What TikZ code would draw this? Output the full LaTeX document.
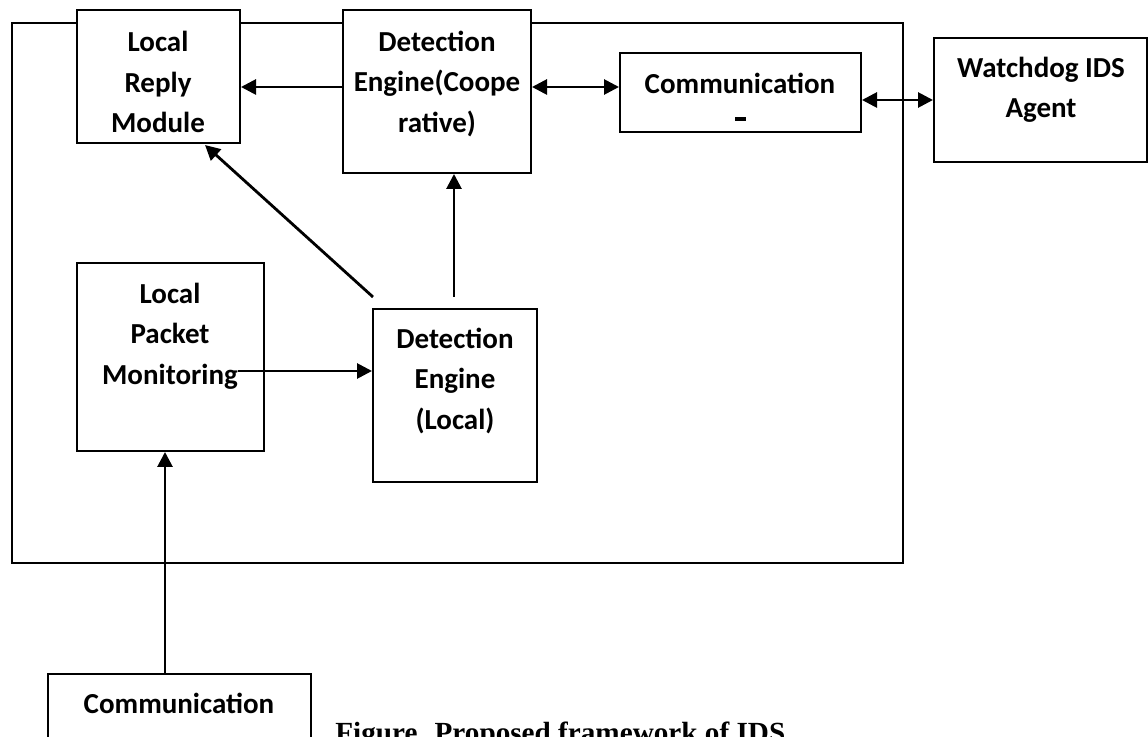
\documentclass[tikz,border=0pt]{standalone}
\usepackage{fontspec}
\setmainfont{Carlito}
\newfontfamily\capfont{Liberation Serif}
\usetikzlibrary{arrows.meta,positioning}
\tikzstyle{box}  = [draw, rectangle, line width=1pt, inner sep=0pt]
\tikzstyle{lbl}  = [align=center, inner sep=0pt, font=\bfseries\fontsize{14.5}{20.25}\selectfont]
\tikzstyle{conn} = [line width=1.4pt]

\begin{document}
\begin{tikzpicture}[x=0.5pt, y=-0.5pt, >={Triangle[length=7.5pt, width=7.5pt]}]
\useasboundingbox (0,0) rectangle (1148,737);
\clip (0,0) rectangle (1148,737);
\node[box, minimum width=445.5pt, minimum height=270pt] (frame) at (457.5,293) {};
\node[box, fill=white, minimum width=81.5pt, minimum height=66.5pt] (reply) at (158.5,76.5) {};
\node[box, fill=white, minimum width=94pt, minimum height=81.5pt] (coop) at (437,91.5) {};
\node[box, minimum width=120.5pt, minimum height=39.5pt] (commTop) at (740.5,92.5) {};
\node[box, minimum width=106.5pt, minimum height=62pt] (watchdog) at (1040.5,100) {};
\node[box, minimum width=93.5pt, minimum height=94pt] (mon) at (170.5,357) {};
\node[box, minimum width=82pt, minimum height=86.5pt] (detLocal) at (455,395.5) {};
\node[box, minimum width=131.5pt, minimum height=63pt] (commBottom) at (179.5,737) {};
\node[lbl] (replyTxt) at (158,82) {Local\\Reply\\Module};
\node[lbl] (coopTxt) at (437,84) {Detection\\Engine(Coope\\rative)};
\node[lbl] (commTopTxt) at (740,83) {Communication};
\node[lbl] (watchdogTxt) at (1041,90) {Watchdog IDS\\Agent};
\node[lbl] (monTxt) at (170,336) {Local\\Packet\\Monitoring};
\node[lbl] (detLocalTxt) at (455,381) {Detection\\Engine\\(Local)};
\node[lbl] (commBottomTxt) at (179,703) {Communication};
\node[anchor=base west, inner sep=0pt, font=\capfont\bfseries\fontsize{14.6}{17}\selectfont] (caption) at (335,743) {Figure. Proposed framework of IDS};
\fill (735,117) rectangle (746,121);
\coordinate (rowA) at (0,87);
\coordinate (diagStart) at (373,297);
\coordinate (diagEnd) at (205,145);
\coordinate (upStart) at (454,297);
\coordinate (monOut) at (238,371);
\coordinate (feedX) at (165,0);
\draw[conn,->] (coop.west |- rowA) -- (reply.east |- rowA);
\draw[conn,<->] (coop.east |- rowA) -- (commTop.west |- rowA);
\draw[conn,<->] (commTop.east |- watchdog.west) -- (watchdog.west);
\draw[conn,->] (diagStart) -- (diagEnd);
\draw[conn,->] (upStart) -- (upStart |- coop.south);
\draw[conn,->] (monOut) -- (monOut -| detLocal.west);
\draw[conn,->] (commBottom.north -| feedX) -- (mon.south -| feedX);
\end{tikzpicture}
\end{document}
